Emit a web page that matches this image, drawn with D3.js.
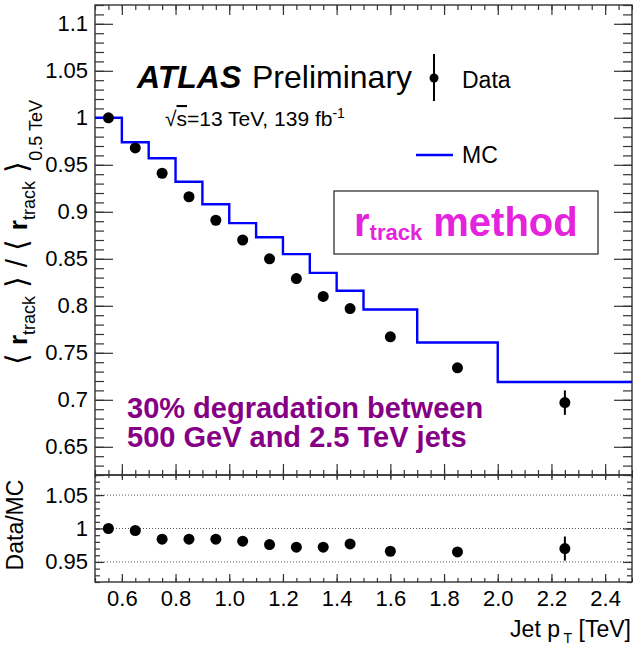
<!DOCTYPE html>
<html>
<head>
<meta charset="utf-8">
<script src="https://cdn.jsdelivr.net/npm/d3@7"></script>
<style>
  body { margin: 0; background: #fff; }
  text { font-family: "Liberation Sans", Arial, Helvetica, sans-serif; }
</style>
</head>
<body>
<div id="chart"></div>
<script>
// bins in jet pT [TeV]
const binEdges = [0.5, 0.6, 0.7, 0.8, 0.9, 1.0, 1.1, 1.2, 1.3, 1.4, 1.5, 1.7, 2.0, 2.5];
const ptCenters = [0.55, 0.65, 0.75, 0.85, 0.95, 1.05, 1.15, 1.25, 1.35, 1.45, 1.6, 1.85, 2.25];
const dataVals = [1.000, 0.968, 0.941, 0.916, 0.891, 0.870, 0.850, 0.829, 0.810, 0.797, 0.767, 0.734, 0.697];
const dataErr = [0.001, 0.001, 0.001, 0.001, 0.001, 0.002, 0.002, 0.002, 0.002, 0.003, 0.003, 0.005, 0.013];
const mcVals = [1.000, 0.974, 0.957, 0.932, 0.908, 0.888, 0.873, 0.855, 0.835, 0.816, 0.796, 0.761, 0.719];
const ratioVals = [1.000, 0.997, 0.984, 0.984, 0.984, 0.981, 0.976, 0.972, 0.972, 0.977, 0.966, 0.965, 0.970];
const ratioErr = [0.001, 0.001, 0.001, 0.001, 0.001, 0.002, 0.002, 0.002, 0.002, 0.003, 0.004, 0.006, 0.018];

const xTickLabels = [0.6, 0.8, 1.0, 1.2, 1.4, 1.6, 1.8, 2.0, 2.2, 2.4];
const mainYTicks = [0.65, 0.7, 0.75, 0.8, 0.85, 0.9, 0.95, 1, 1.05, 1.1];
const ratioYTicks = [0.95, 1, 1.05];
const ratioRefLines = [0.95, 1, 1.05];

const W = 633, H = 647;
const left = 95, right = 632;
const mainTop = 5, mainBottom = 475, ratioBottom = 582;

const svg = d3.select("#chart").append("svg")
    .attr("width", W)
    .attr("height", H);

svg.append("rect").attr("width", W).attr("height", H).attr("fill", "#fff");

const x = d3.scaleLinear().domain([0.5, 2.5]).range([left, right]);
const yMain = d3.scaleLinear().domain([0.62, 1.12]).range([mainBottom, mainTop]);
const yRatio = d3.scaleLinear().domain([0.92, 1.08]).range([ratioBottom, mainBottom]);

const xMinor = d3.range(0.5, 2.5001, 0.05).map(d => +d.toFixed(2));
const yMainMinor = d3.range(0.62, 1.1201, 0.01).map(d => +d.toFixed(2));
const yRatioMinor = d3.range(0.92, 1.0801, 0.01).map(d => +d.toFixed(2));

const fmtY = d => String(+d.toFixed(2));

function drawAxis(g, axis, fontSize) {
    g.call(axis);
    g.select(".domain").remove();
    g.selectAll(".tick line").attr("stroke", "#333").attr("stroke-width", 1.2);
    g.selectAll(".tick text")
        .attr("font-family", "Liberation Sans, Arial, sans-serif")
        .attr("font-size", fontSize)
        .attr("fill", "#000");
}

// ratio reference lines, under the points
svg.append("g").selectAll("line")
    .data(ratioRefLines)
    .join("line")
    .attr("x1", left).attr("x2", right)
    .attr("y1", d => yRatio(d)).attr("y2", d => yRatio(d))
    .attr("stroke", "#555")
    .attr("stroke-width", 1)
    .attr("stroke-dasharray", "1,2");

// main panel ticks (ROOT style, inside on all four sides)
drawAxis(svg.append("g").attr("transform", `translate(${left},0)`),
    d3.axisLeft(yMain).tickValues(mainYTicks).tickFormat(fmtY).tickSize(-18).tickPadding(7), 22);
drawAxis(svg.append("g").attr("transform", `translate(${left},0)`),
    d3.axisLeft(yMain).tickValues(yMainMinor).tickFormat("").tickSize(-9), 0);
drawAxis(svg.append("g").attr("transform", `translate(${right},0)`),
    d3.axisRight(yMain).tickValues(mainYTicks).tickFormat("").tickSize(-18), 0);
drawAxis(svg.append("g").attr("transform", `translate(${right},0)`),
    d3.axisRight(yMain).tickValues(yMainMinor).tickFormat("").tickSize(-9), 0);
drawAxis(svg.append("g").attr("transform", `translate(0,${mainTop})`),
    d3.axisTop(x).tickValues(xTickLabels).tickFormat("").tickSize(-10), 0);
drawAxis(svg.append("g").attr("transform", `translate(0,${mainTop})`),
    d3.axisTop(x).tickValues(xMinor).tickFormat("").tickSize(-5), 0);
drawAxis(svg.append("g").attr("transform", `translate(0,${mainBottom})`),
    d3.axisBottom(x).tickValues(xTickLabels).tickFormat("").tickSize(-11), 0);
drawAxis(svg.append("g").attr("transform", `translate(0,${mainBottom})`),
    d3.axisBottom(x).tickValues(xMinor).tickFormat("").tickSize(-5), 0);

// ratio panel ticks
drawAxis(svg.append("g").attr("transform", `translate(${left},0)`),
    d3.axisLeft(yRatio).tickValues(ratioYTicks).tickFormat(fmtY).tickSize(-9).tickPadding(7), 22);
drawAxis(svg.append("g").attr("transform", `translate(${left},0)`),
    d3.axisLeft(yRatio).tickValues(yRatioMinor).tickFormat("").tickSize(-5), 0);
drawAxis(svg.append("g").attr("transform", `translate(${right},0)`),
    d3.axisRight(yRatio).tickValues(ratioYTicks).tickFormat("").tickSize(-9), 0);
drawAxis(svg.append("g").attr("transform", `translate(${right},0)`),
    d3.axisRight(yRatio).tickValues(yRatioMinor).tickFormat("").tickSize(-5), 0);
drawAxis(svg.append("g").attr("transform", `translate(0,${mainBottom})`),
    d3.axisTop(x).tickValues(xTickLabels).tickFormat("").tickSize(-5), 0);
drawAxis(svg.append("g").attr("transform", `translate(0,${mainBottom})`),
    d3.axisTop(x).tickValues(xMinor).tickFormat("").tickSize(-3), 0);
drawAxis(svg.append("g").attr("transform", `translate(0,${ratioBottom})`),
    d3.axisBottom(x).tickValues(xTickLabels).tickFormat(d3.format(".1f")).tickSize(-8).tickPadding(8), 22);
drawAxis(svg.append("g").attr("transform", `translate(0,${ratioBottom})`),
    d3.axisBottom(x).tickValues(xMinor).tickFormat("").tickSize(-4), 0);

// frames
svg.append("rect")
    .attr("x", left).attr("y", mainTop)
    .attr("width", right - left).attr("height", mainBottom - mainTop)
    .attr("fill", "none").attr("stroke", "#333").attr("stroke-width", 1.4);
svg.append("rect")
    .attr("x", left).attr("y", mainBottom)
    .attr("width", right - left).attr("height", ratioBottom - mainBottom)
    .attr("fill", "none").attr("stroke", "#333").attr("stroke-width", 1.4);

// MC histogram as a step line
const steps = [];
mcVals.forEach((v, i) => {
    steps.push([binEdges[i], v]);
    steps.push([binEdges[i + 1], v]);
});
svg.append("path")
    .datum(steps)
    .attr("fill", "none")
    .attr("stroke", "#0000ff")
    .attr("stroke-width", 2.4)
    .attr("d", d3.line().x(d => x(d[0])).y(d => yMain(d[1])));

// data points, main panel
const mainPts = ptCenters.map((c, i) => ({ x: c, y: dataVals[i], e: dataErr[i] }));
const gMain = svg.append("g");
gMain.selectAll("line")
    .data(mainPts)
    .join("line")
    .attr("x1", d => x(d.x)).attr("x2", d => x(d.x))
    .attr("y1", d => yMain(d.y - d.e)).attr("y2", d => yMain(d.y + d.e))
    .attr("stroke", "#000").attr("stroke-width", 2);
gMain.selectAll("circle")
    .data(mainPts)
    .join("circle")
    .attr("cx", d => x(d.x)).attr("cy", d => yMain(d.y))
    .attr("r", 5.5).attr("fill", "#000");

// data points, ratio panel
const ratioPts = ptCenters.map((c, i) => ({ x: c, y: ratioVals[i], e: ratioErr[i] }));
const gRatio = svg.append("g");
gRatio.selectAll("line")
    .data(ratioPts)
    .join("line")
    .attr("x1", d => x(d.x)).attr("x2", d => x(d.x))
    .attr("y1", d => yRatio(d.y - d.e)).attr("y2", d => yRatio(d.y + d.e))
    .attr("stroke", "#000").attr("stroke-width", 2);
gRatio.selectAll("circle")
    .data(ratioPts)
    .join("circle")
    .attr("cx", d => x(d.x)).attr("cy", d => yRatio(d.y))
    .attr("r", 5.5).attr("fill", "#000");

// ATLAS label
const atlas = svg.append("text").attr("x", 137).attr("y", 88).attr("font-size", 32);
atlas.append("tspan").attr("font-weight", "bold").attr("font-style", "italic").text("ATLAS");
atlas.append("tspan").attr("x", 252).text("Preliminary");

const lumi = svg.append("text").attr("x", 165).attr("y", 126).attr("font-size", 21);
lumi.append("tspan").text("√");
lumi.append("tspan").attr("text-decoration", "overline").text("s");
lumi.append("tspan").text("=13 TeV, 139 fb");
lumi.append("tspan").attr("font-size", 14).attr("dy", -8).text("-1");

// legend
svg.append("line").attr("x1", 434).attr("x2", 434).attr("y1", 54).attr("y2", 101)
    .attr("stroke", "#000").attr("stroke-width", 2);
svg.append("circle").attr("cx", 434).attr("cy", 78).attr("r", 4.5).attr("fill", "#000");
svg.append("text").attr("x", 462).attr("y", 88).attr("font-size", 23).text("Data");
svg.append("line").attr("x1", 416).attr("x2", 453).attr("y1", 155).attr("y2", 155)
    .attr("stroke", "#0000ff").attr("stroke-width", 2.4);
svg.append("text").attr("x", 462).attr("y", 163).attr("font-size", 23).text("MC");

// method box
svg.append("rect").attr("x", 334).attr("y", 191).attr("width", 264).attr("height", 63)
    .attr("fill", "#fff").attr("stroke", "#333").attr("stroke-width", 1.3);
const method = svg.append("text").attr("x", 354).attr("y", 236)
    .attr("font-size", 40).attr("font-weight", "bold").attr("fill", "#e424dc");
method.append("tspan").text("r");
method.append("tspan").attr("font-size", 22).attr("dy", 4).text("track");
method.append("tspan").attr("dy", -4).text(" method");

// degradation note
const note = svg.append("text").attr("font-size", 29).attr("font-weight", "bold").attr("fill", "#850085");
note.append("tspan").attr("x", 127).attr("y", 418).text("30% degradation between");
note.append("tspan").attr("x", 127).attr("y", 447).text("500 GeV and 2.5 TeV jets");

// axis titles
const yTitle = svg.append("text")
    .attr("transform", "translate(27,100) rotate(-90)")
    .attr("text-anchor", "end")
    .attr("font-size", 26);
yTitle.append("tspan").attr("font-size", 30).text("⟨ ");
yTitle.append("tspan").attr("font-weight", "bold").text("r");
yTitle.append("tspan").attr("font-size", 18).attr("dy", 8).text("track");
yTitle.append("tspan").attr("dy", -8).attr("font-size", 30).text(" ⟩ / ⟨ ");
yTitle.append("tspan").attr("font-weight", "bold").text("r");
yTitle.append("tspan").attr("font-size", 18).attr("dy", 8).text("track");
yTitle.append("tspan").attr("dy", -8).attr("font-size", 30).text(" ⟩");
yTitle.append("tspan").attr("font-size", 18).attr("dy", 15).text("0.5 TeV");

svg.append("text")
    .attr("transform", "translate(23,525) rotate(-90)")
    .attr("text-anchor", "middle")
    .attr("font-size", 23)
    .text("Data/MC");

const xTitle = svg.append("text")
    .attr("x", 631).attr("y", 637)
    .attr("text-anchor", "end")
    .attr("font-size", 23);
xTitle.append("tspan").text("Jet p");
xTitle.append("tspan").attr("font-size", 14).attr("dy", 6).text(" T");
xTitle.append("tspan").attr("dy", -6).text(" [TeV]");
</script>
</body>
</html>
